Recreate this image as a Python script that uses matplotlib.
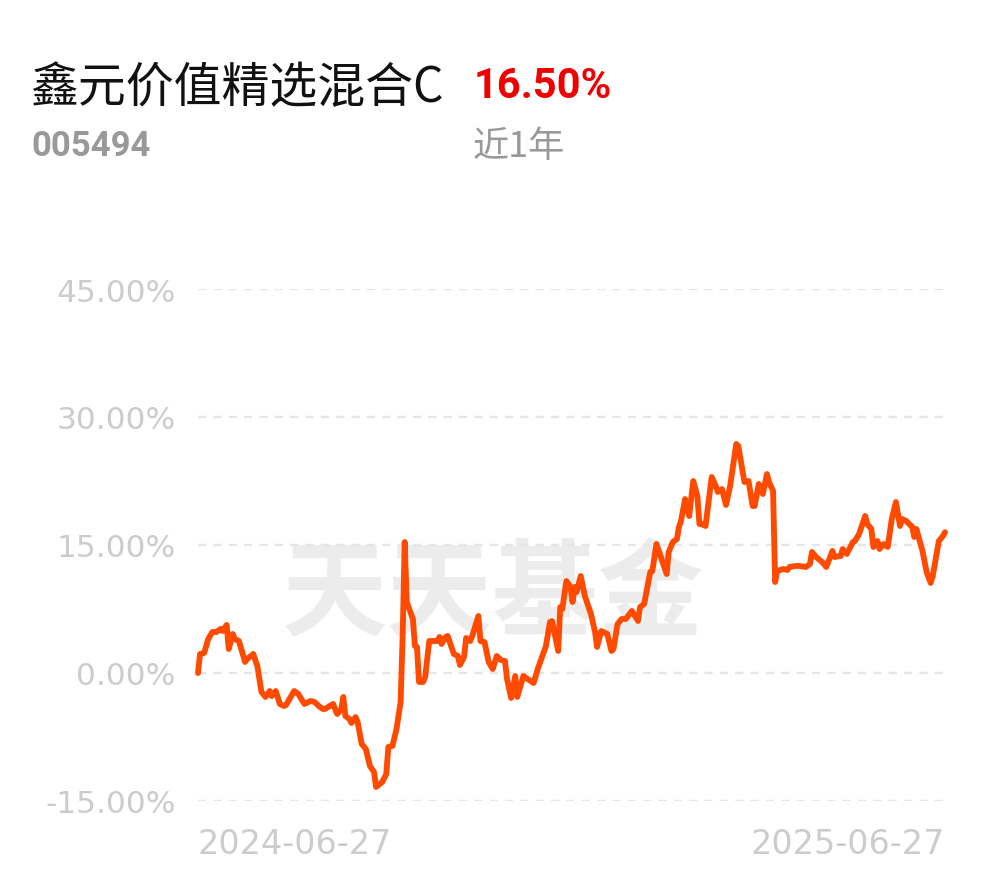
import matplotlib
matplotlib.use('Agg')
import numpy as np
import matplotlib.pyplot as plt

# %% Data (day offset from 2024-06-27, return in %)
fund_name = '鑫元价值精选混合C'
fund_code = '005494'
period_return = '16.50%'
period_label = '近1年'
start_label = '2024-06-27'
end_label = '2025-06-27'
watermark = '天天基金'

days = [0, 1, 3, 5, 7, 9, 11, 12, 14, 15, 17, 18, 20, 23, 24, 27, 29, 31, 33, 35,
        36, 38, 40, 42, 43, 47, 49, 52, 55, 57, 59, 61, 62, 66, 68, 70, 71, 72, 74, 75,
        77, 78, 80, 82, 84, 86, 87, 90, 92, 93, 95, 97, 99, 100, 101, 102, 105, 106, 107, 108,
        110, 111, 113, 115, 117, 118, 119, 121, 122, 125, 127, 128, 130, 131, 133, 134, 137, 138, 140, 142,
        144, 146, 148, 150, 151, 153, 155, 156, 159, 161, 164, 166, 170, 172, 173, 176, 177, 178, 180, 182,
        183, 184, 185, 187, 189, 192, 194, 195, 197, 200, 202, 203, 205, 207, 209, 212, 215, 216, 218, 221,
        222, 224, 226, 227, 229, 230, 232, 234, 235, 236, 238, 240, 242, 244, 245, 246, 248, 251, 253, 254,
        256, 258, 260, 261, 263, 264, 267, 269, 271, 272, 274, 276, 278, 279, 281, 282, 283, 286, 288, 289,
        292, 294, 297, 299, 300, 302, 305, 307, 310, 311, 314, 315, 317, 320, 321, 323, 326, 327, 329, 330,
        332, 333, 335, 337, 339, 341, 343, 344, 346, 349, 350, 351, 354, 356, 358, 359, 362, 364, 365]

returns = [0.00, 2.23, 2.34, 3.98, 4.80, 4.80, 5.16, 4.92, 5.63, 2.81, 4.57, 3.98, 3.75, 1.29, 1.64, 2.23, 0.82, -2.23, -2.81, -2.11,
           -2.70, -2.11, -3.63, -3.87, -3.75, -2.11, -2.46, -3.63, -3.28, -3.40, -3.87, -4.22, -4.22, -3.63, -4.80, -4.22, -2.81, -5.04, -5.39, -5.86,
           -5.16, -5.74, -8.32, -8.91, -10.90, -11.60, -13.36, -12.77, -11.84, -8.67, -8.55, -6.56, -3.40, 4.34, 15.35, 8.32, 6.33, 3.16, 3.05, -1.05,
           -1.05, -0.47, 3.75, 3.75, 3.75, 4.22, 3.40, 4.22, 4.34, 2.23, 1.99, 0.94, 1.88, 4.10, 3.75, 4.34, 6.68, 3.75, 3.63, 1.29,
           0.47, 1.99, 1.52, 1.41, -0.70, -2.93, -0.35, -2.81, -0.35, -0.70, -1.17, 0.47, 3.16, 5.98, 6.09, 2.58, 7.73, 7.50, 10.78, 10.08,
           8.32, 10.08, 9.49, 11.37, 9.02, 6.91, 4.80, 3.05, 4.92, 4.57, 2.58, 2.81, 5.74, 6.33, 6.33, 7.27, 6.09, 7.73, 8.09, 11.84,
           11.95, 15.12, 13.71, 13.01, 11.60, 14.18, 15.35, 15.70, 17.11, 17.81, 20.39, 18.40, 22.50, 20.74, 17.46, 17.46, 17.23, 22.97, 21.91, 21.21,
           21.56, 19.69, 21.91, 23.55, 26.84, 26.60, 22.38, 22.50, 19.57, 19.57, 22.15, 20.98, 23.32, 22.38, 21.33, 10.66, 11.95, 12.19, 12.07, 12.42,
           12.54, 12.54, 12.42, 12.77, 14.18, 13.59, 13.01, 12.42, 14.30, 13.59, 13.71, 14.53, 13.95, 15.35, 15.47, 16.29, 18.40, 17.46, 16.88, 14.77,
           15.47, 14.53, 15.12, 14.77, 18.05, 20.04, 17.23, 18.05, 17.81, 17.11, 15.94, 16.88, 14.30, 11.84, 10.55, 11.37, 15.47, 16.05, 16.50]

y_ticks = [-15, 0, 15, 30, 45]

# %% Plot
plt.rcParams['font.family'] = ['Noto Sans CJK SC', 'DejaVu Sans']

fig = plt.figure(figsize=(9.9, 8.78), dpi=100)
ax = fig.add_axes([198 / 990, 1 - 802 / 878, (945 - 198) / 990, (802 - 290) / 878])

ax.plot(days, returns, color='#ff4a00', linewidth=4.2, solid_joinstyle='round',
        solid_capstyle='round', clip_on=False, zorder=3)

ax.set_xlim(0, 365)
ax.set_ylim(-15, 45)
ax.set_yticks(y_ticks, labels=[f'{v:.2f}%' for v in y_ticks])
ax.set_xticks([0, 365], labels=[start_label, end_label])
ax.tick_params(axis='y', length=0, pad=16, labelsize=22.5, labelcolor='#cccccc')
ax.tick_params(axis='x', length=0, pad=19, labelsize=24, labelcolor='#cccccc')
for lab in ax.get_yticklabels():
    lab.set_family('DejaVu Sans')
for lab, ha in zip(ax.get_xticklabels(), ['left', 'right']):
    lab.set_horizontalalignment(ha)
    lab.set_family('DejaVu Sans')
for s in ax.spines.values():
    s.set_visible(False)
ax.grid(axis='y', linestyle=(0, (3.5, 3)), color='#e6e6e6', linewidth=1.7, zorder=1)

# watermark
ax.text(0.395, 0.40, watermark, transform=ax.transAxes, ha='center', va='center',
        fontsize=76, fontweight='bold', color='#ececec', zorder=0)

# header texts
fig.text(30 / 990, 1 - 88 / 878, fund_name, fontsize=34.5, color='#111111', va='center', ha='left')
fig.text(474 / 990, 1 - 87 / 878, period_return, fontsize=30, color='#f00000', fontweight='bold',
         va='center', ha='left', family='Roboto')
fig.text(31 / 990, 1 - 147 / 878, fund_code, fontsize=25, color='#999999', fontweight='bold',
         va='center', ha='left', family='Roboto')
fig.text(473 / 990, 1 - 147 / 878, period_label, fontsize=26, color='#999999', va='center', ha='left')

fig.savefig('out.png', dpi=100, facecolor='white')
